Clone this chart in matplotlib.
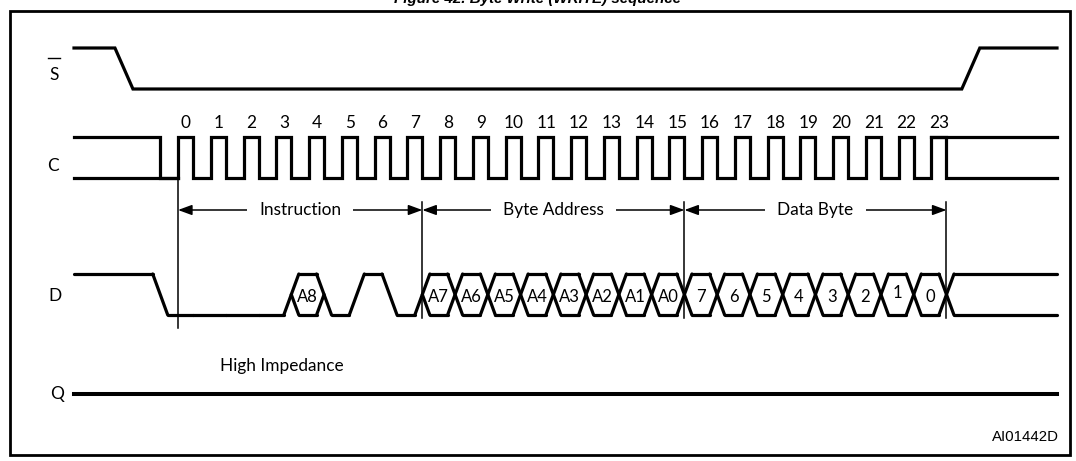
import matplotlib
matplotlib.use('Agg')
import matplotlib.pyplot as plt
from matplotlib.collections import LineCollection
from matplotlib.patches import Rectangle

# ---- data ----
title = 'Figure 42. Byte Write (WRITE) sequence'
signal_names = ['S', 'C', 'D', 'Q']
clock_labels = [str(i) for i in range(24)]
instr_bits = ['0', '0', '0', '0', 'A8', '0', '1', '0']
addr_bits = ['A7', 'A6', 'A5', 'A4', 'A3', 'A2', 'A1', 'A0']
data_bits = ['7', '6', '5', '4', '3', '2', '1', '0']
phases = ['Instruction', 'Byte Address', 'Data Byte']
phase_bounds = [0, 8, 16, 24]        # clock cycles
s_edges = [-1.65, 24.2]              # S falls / rises (clock cycles)
q_note = 'High Impedance'
fig_code = 'AI01442D'

# ---- layout (pixels -> clock units) ----
X0, P = 178.0, 32.76
def t(px):
    return (px - X0) / P

FALL = 0.458           # falling edge offset inside a cycle
W = 7.5 / P            # half width of a data transition
T_LEFT, T_RIGHT = t(74), t(1057)
S_H, S_L = 48, 89
C_H, C_L = 137, 178
D_H, D_L = 274, 315
D_M = (D_H + D_L) / 2
Q_Y = 394
LW = 2.3
FONT = 'Lato'
FS = 12.4

fig = plt.figure(figsize=(10.76, 4.61), dpi=100)
ax = fig.add_axes([0, 0, 1, 1])
ax.set_xlim(t(0), t(1076))
ax.set_ylim(461, 0)
ax.axis('off')

# frame and title
ax.add_patch(Rectangle((t(10), 11), t(1070) - t(10), 444, fill=False,
                       lw=2, ec='black'))
ax.text(t(538), 3.5, title, ha='center', va='baseline', fontsize=10.9,
        family='Liberation Sans', weight='bold', style='italic')

# signal names
name_pos = {'S': (54, 75), 'C': (52.5, 166), 'D': (55, 296), 'Q': (57, 394)}
for name in signal_names:
    px, py = name_pos[name]
    ax.text(t(px), py, name, ha='center', va='center', fontsize=FS, family=FONT)
ax.plot([t(48.5), t(60.5)], [58, 58], color='black', lw=1.0)   # overbar on S

# S (chip select)
sw = 9 / P
ax.plot([T_LEFT, s_edges[0] - sw, s_edges[0] + sw, s_edges[1] - sw,
         s_edges[1] + sw, T_RIGHT],
        [S_H, S_H, S_L, S_L, S_H, S_H], color='black', lw=LW,
        solid_joinstyle='miter')

# C (clock)
cx = [T_LEFT, -1 + FALL, -1 + FALL]
cy = [C_H, C_H, C_L]
for k in range(len(clock_labels)):
    cx += [k, k, k + FALL, k + FALL]
    cy += [C_L, C_H, C_H, C_L]
cx.append(T_RIGHT)
cy.append(C_L)
ax.plot(cx, cy, color='black', lw=LW, solid_joinstyle='miter')
ax.plot([T_LEFT, 0], [C_L, C_L], color='black', lw=LW)
ax.plot([len(clock_labels) - 1, T_RIGHT], [C_H, C_H], color='black', lw=LW)
for k, lab in enumerate(clock_labels):
    ax.text(k + 0.24, 122.5, lab, ha='center', va='center', fontsize=FS,
            family=FONT)

# D (data in)
states, labels = ['H'], [None]
for b in instr_bits:
    if b == '0':
        states.append('L'); labels.append(None)
    elif b == '1':
        states.append('H'); labels.append(None)
    else:
        states.append('X'); labels.append(b)
for b in addr_bits + data_bits:
    states.append('X'); labels.append(b)
states.append('Z'); labels.append(None)
times = [k - 1 + FALL for k in range(len(states) - 1)]

def levels(s):
    return {'L': [D_L], 'H': [D_H]}.get(s, [D_H, D_L])

def opp(lv):
    return D_L if lv == D_H else D_H

def changed(a, b):
    return a != b or len(levels(a)) > 1

segs = []
for i, st in enumerate(states):
    left = T_LEFT if i == 0 else times[i - 1]
    right = T_RIGHT if i == len(states) - 1 else times[i]
    if i > 0 and changed(states[i - 1], st):
        left += W
    if i < len(states) - 1 and changed(st, states[i + 1]):
        right -= W
    for lv in levels(st):
        segs.append([(left, lv), (right, lv)])
for i, tt in enumerate(times):
    A, B = levels(states[i]), levels(states[i + 1])
    if not changed(states[i], states[i + 1]):
        continue
    for a in A:
        if opp(a) in B:
            segs.append([(tt - W, a), (tt + W, opp(a))])
        else:
            segs.append([(tt - W, a), (tt, D_M)])
    for b in B:
        if opp(b) not in A:
            segs.append([(tt, D_M), (tt + W, b)])
ax.add_collection(LineCollection(segs, colors='black', linewidths=LW,
                                 capstyle='round', joinstyle='round'))
for i, lab in enumerate(labels):
    if lab is None:
        continue
    cxl = (times[i - 1] + times[i]) / 2
    dy = -4 if lab == '1' else 0
    ax.text(cxl, D_M + 2 + dy, lab, ha='center', va='center', fontsize=12,
            family=FONT)

# guide lines and phase arrows
ax.plot([0, 0], [C_L, 328], color='black', lw=1.1)
edges = [phase_bounds[0]] + [b - 1 + FALL for b in phase_bounds[1:]]
for e in edges[1:]:
    ax.plot([e, e], [202, 318], color='black', lw=1.1)
AY = 210
for name, a, b in zip(phases, edges[:-1], edges[1:]):
    ax.annotate('', xy=(b, AY), xytext=(a, AY),
                arrowprops=dict(arrowstyle='<|-|>,head_length=0.6,head_width=0.22',
                                mutation_scale=14, lw=1.1, color='black',
                                shrinkA=0, shrinkB=0))
    ax.text((a + b) / 2, AY, name, ha='center', va='center', fontsize=FS,
            family=FONT, bbox=dict(boxstyle='square,pad=0.7', fc='white',
                                   ec='none'))

# Q (data out)
ax.plot([T_LEFT, T_RIGHT], [Q_Y, Q_Y], color='black', lw=2.9)
ax.text(t(282), 366, q_note, ha='center', va='center', fontsize=FS, family=FONT)

ax.text(t(1059), 437, fig_code, ha='right', va='center', fontsize=10.8,
        family='Liberation Sans')

fig.savefig('out.png', dpi=100)
